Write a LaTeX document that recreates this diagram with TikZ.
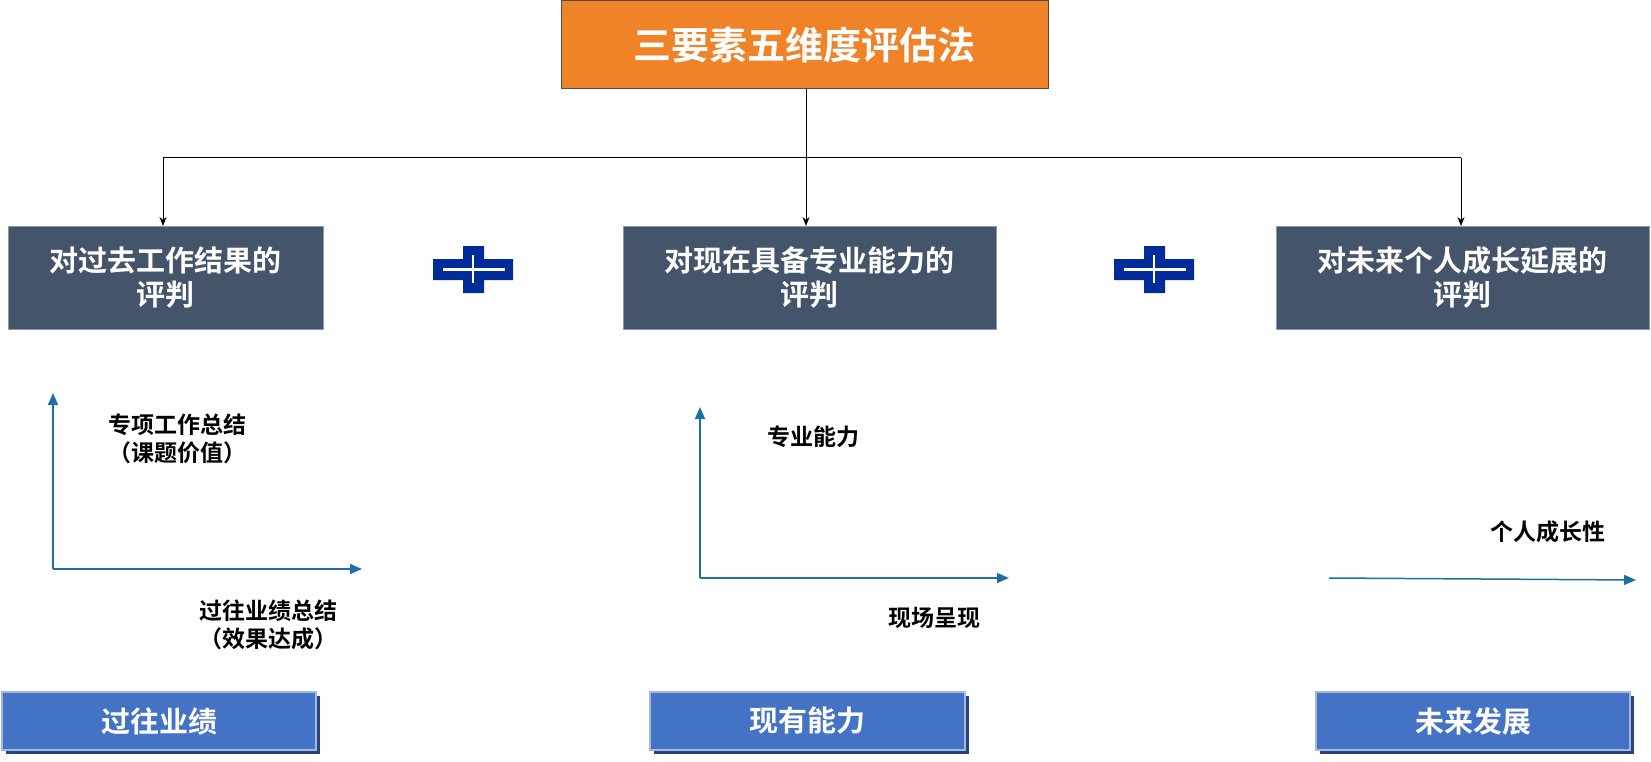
\documentclass[tikz,border=0pt]{standalone}
\usepackage{fontspec}
\newfontfamily\cjk{Noto Sans CJK SC Bold}
\usetikzlibrary{arrows.meta}
\definecolor{org}{HTML}{F08228}
\definecolor{slate}{HTML}{44546A}
\definecolor{bbox}{HTML}{4472C4}
\definecolor{axis}{HTML}{1F6FA5}
\definecolor{plusc}{HTML}{002B9A}
\begin{document}
\begin{tikzpicture}[x=1pt,y=-1pt,
  dbox/.style={fill=slate,draw=slate!60,line width=1pt,text=white,font=\cjk\fontsize{29}{34}\selectfont,align=center,inner sep=0},
  bbx/.style={fill=bbox,draw=bbox!50!white,line width=1.2pt,text=white,font=\cjk\fontsize{29}{34}\selectfont,inner sep=0},
  lbl/.style={font=\cjk\fontsize{23}{28}\selectfont,align=center},
  ax/.style={draw=axis,line width=1.5pt,-{Triangle[length=12pt,width=10pt]}},
  conn/.style={draw=black,line width=1pt,-{Stealth[length=9pt,width=7pt]}}]
\useasboundingbox (0,0) rectangle (1651,762);
\node[fill=org,draw=black!70,line width=1pt,text=white,font=\cjk\fontsize{38}{44}\selectfont,minimum width=487pt,minimum height=88pt,inner sep=0] (t) at (804.5,45) {三要素五维度评估法};
\node[dbox,minimum width=315pt,minimum height=103pt] (a) at (165.5,277.5) {对过去工作结果的\\评判};
\node[dbox,minimum width=373pt,minimum height=103pt] (b) at (809.5,277.5) {对现在具备专业能力的\\评判};
\node[dbox,minimum width=373pt,minimum height=103pt] (c) at (1462.5,277.5) {对未来个人成长延展的\\评判};
\coordinate (j) at (806,158);
\draw[line width=1pt] (t.south -| j) -- (j);
\draw[line width=1pt] (163,158) -- (1461,158);
\draw[conn] (163,158) -- (163,226);
\draw[conn] (j) -- (806,226);
\draw[conn] (1461,158) -- (1461,226);
% plus signs
\foreach \px in {433,1114}{
  \fill[plusc] (\px,259) -- (\px+30,259) -- (\px+30,246) -- (\px+51,246) -- (\px+51,259) -- (\px+80,259) -- (\px+80,280) -- (\px+51,280) -- (\px+51,293) -- (\px+30,293) -- (\px+30,280) -- (\px,280) -- cycle;
  \draw[white,line width=2.5pt] (\px+10,269.5) -- (\px+72,269.5);
  \draw[white,line width=2.5pt] (\px+40,255) -- (\px+40,283);
}
% axes
\coordinate (o1) at (53,569);
\draw[ax] (o1) -- (53,393);
\draw[ax] (o1) -- (362,569);
\node[lbl] (l1) at (177,439) {专项工作总结\\（课题价值）};
\node[lbl] (l2) at (268,625) {过往业绩总结\\（效果达成）};
\coordinate (o2) at (700,578);
\draw[ax] (o2) -- (700,407);
\draw[ax] (o2) -- (1009,578);
\node[lbl] (l3) at (813,437) {专业能力};
\node[lbl] (l4) at (934,618) {现场呈现};
\coordinate (o3) at (1329,578);
\draw[ax] (o3) -- (1636,580);
\node[lbl] (l5) at (1548,532) {个人成长性};
% bottom
\foreach \n/\x/\w/\t in {p/159/314/过往业绩, q/807.5/315/现有能力, r/1473/314/未来发展}{
  \fill[bbox!60!black] (\x-\w/2+4,696) rectangle (\x+\w/2+4,754);
  \node[bbx,minimum width=\w pt,minimum height=58pt] (\n) at (\x,721) {\t};
}
\end{tikzpicture}
\end{document}
